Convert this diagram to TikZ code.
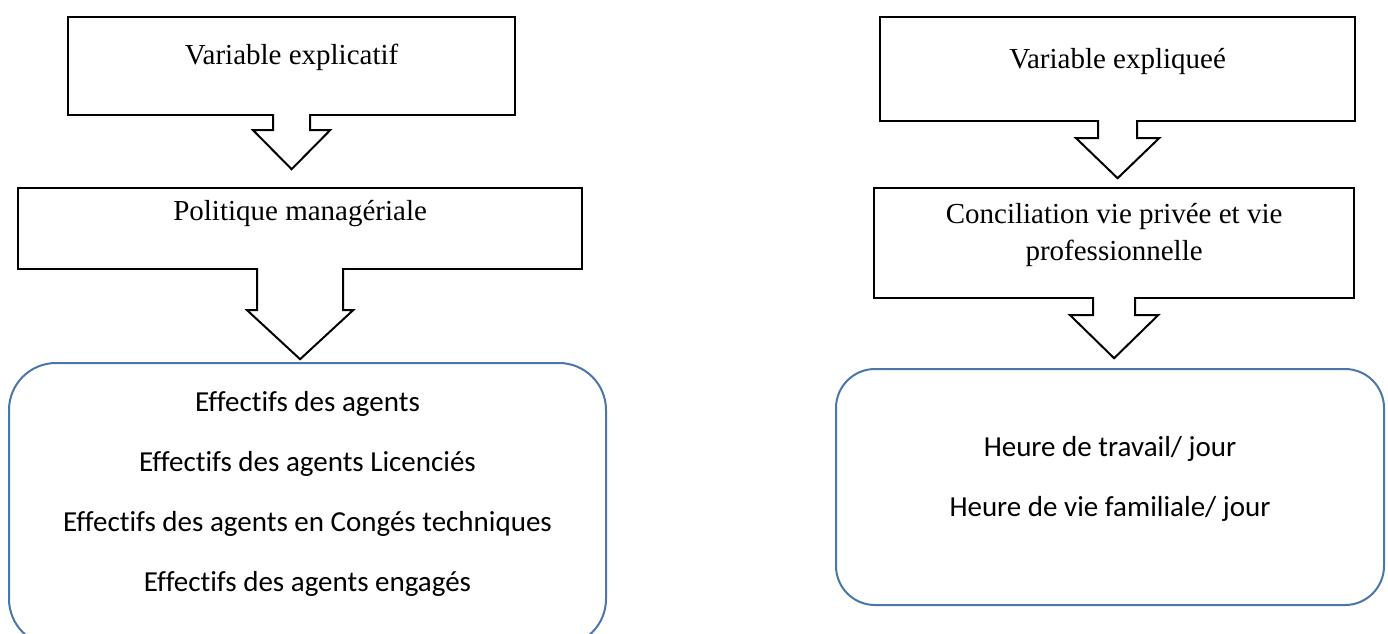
\documentclass[tikz,border=0pt]{standalone}
\usepackage{fontspec}
\setmainfont{Liberation Serif}
\newfontfamily\calibri[Ligatures=NoCommon]{Carlito}
\usetikzlibrary{calc}
\definecolor{boxblue}{HTML}{4A76A8}

\begin{document}
\begin{tikzpicture}[
  x=1pt, y=-1pt,
  varbox/.style={draw=black, line width=2.2pt, rectangle, anchor=north west,
    inner xsep=0pt, inner ysep=0pt, font=\fontsize{29}{37}\selectfont},
  listbox/.style={draw=boxblue, line width=2pt, rectangle, anchor=north west,
    inner xsep=0pt, inner ysep=0pt, font=\calibri\fontsize{29}{60}\selectfont},
  blockarrow/.style={draw=black, fill=white, line width=2pt, line join=miter}
]

% Page frame (bottom of the left list box runs off the page)
\useasboundingbox (0,0) rectangle (1388,633);
\clip (0,0) rectangle (1388,633);

% ── Left column: explanatory variable ──
\node[varbox, minimum width=447pt, text height=47pt, text depth=51pt]
  (expl) at (67,16) {Variable explicatif};
\node[varbox, minimum width=564pt, text height=32pt, text depth=49pt]
  (pol) at (17,187) {Politique managériale};
\node[listbox, minimum width=597pt, text height=48pt, text depth=235pt,
  rounded corners=47pt] (agents) at (8,362)
  {\begin{tabular}[t]{@{}c@{}}
     Effectifs des agents\\
     Effectifs des agents Licenciés\\
     Effectifs des agents en Congés techniques\\
     Effectifs des agents engagés
   \end{tabular}};

% ── Right column: explained variable ──
\node[varbox, minimum width=475pt, text height=51pt, text depth=53pt]
  (expd) at (879,16) {Variable expliqueé};
\node[varbox, minimum width=480pt, text height=35pt, text depth=75pt]
  (conc) at (873,187)
  {\begin{tabular}[t]{@{}c@{}}
     Conciliation vie privée et vie\\
     professionnelle
   \end{tabular}};
\node[listbox, minimum width=548pt, text height=87pt, text depth=149pt,
  rounded corners=39pt] (heures) at (835,368)
  {\begin{tabular}[t]{@{}c@{}}
     Heure de travail/ jour\\
     Heure de vie familiale/ jour
   \end{tabular}};

% ── Block arrows (drawn last so the shaft covers the box border) ──
\filldraw[blockarrow] ($(expl.south)+(-18.5,-2)$) -- ++(0,16) -- ++(-20,0)
  -- ++(38.5,39) -- ++(38.5,-39) -- ++(-20,0) -- ++(0,-16);
\filldraw[blockarrow] ($(pol.south)+(-43,-2)$) -- ++(0,42) -- ++(-10,0)
  -- ++(53,49) -- ++(53,-49) -- ++(-10,0) -- ++(0,-42);
\filldraw[blockarrow] ($(expd.south)+(-19.5,-2)$) -- ++(0,18) -- ++(-22,0)
  -- ++(41.5,40) -- ++(41.5,-40) -- ++(-22,0) -- ++(0,-18);
\filldraw[blockarrow] ($(conc.south)+(-21,-2)$) -- ++(0,18) -- ++(-23,0)
  -- ++(44,43) -- ++(44,-43) -- ++(-23,0) -- ++(0,-18);

\end{tikzpicture}
\end{document}
